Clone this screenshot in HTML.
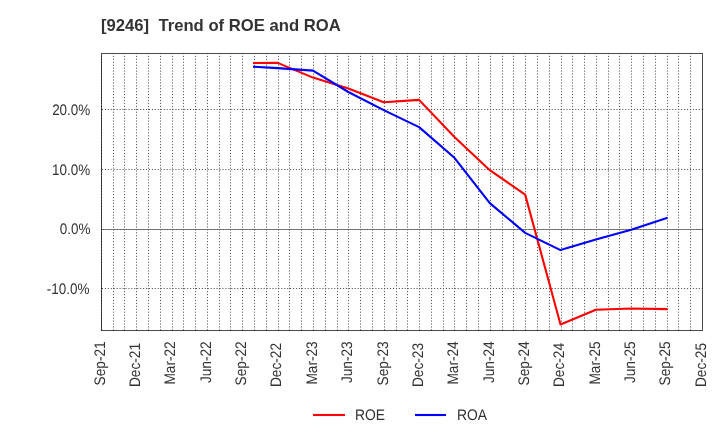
<!DOCTYPE html>
<html><head><meta charset="utf-8"><title>[9246] Trend of ROE and ROA</title>
<style>html,body{margin:0;padding:0;background:#fff;width:720px;height:440px;overflow:hidden}svg{display:block;will-change:transform}</style>
</head><body>
<svg width="720" height="440" viewBox="0 0 720 440" font-family='"Liberation Sans", "DejaVu Sans", sans-serif'>
<rect x="0" y="0" width="720" height="440" fill="#ffffff"/>
<path d="M101.5 229.5H702.5" stroke="#888" stroke-width="1.1" fill="none"/>
<path d="M101.5 330.4V53.5M113.5 330.4V53.5M124.5 330.4V53.5M136.5 330.4V53.5M148.5 330.4V53.5M160.5 330.4V53.5M172.5 330.4V53.5M183.5 330.4V53.5M195.5 330.4V53.5M207.5 330.4V53.5M219.5 330.4V53.5M230.5 330.4V53.5M242.5 330.4V53.5M254.5 330.4V53.5M266.5 330.4V53.5M278.5 330.4V53.5M289.5 330.4V53.5M301.5 330.4V53.5M313.5 330.4V53.5M325.5 330.4V53.5M337.5 330.4V53.5M348.5 330.4V53.5M360.5 330.4V53.5M372.5 330.4V53.5M384.5 330.4V53.5M396.5 330.4V53.5M407.5 330.4V53.5M419.5 330.4V53.5M431.5 330.4V53.5M443.5 330.4V53.5M454.5 330.4V53.5M466.5 330.4V53.5M478.5 330.4V53.5M490.5 330.4V53.5M502.5 330.4V53.5M513.5 330.4V53.5M525.5 330.4V53.5M537.5 330.4V53.5M549.5 330.4V53.5M561.5 330.4V53.5M572.5 330.4V53.5M584.5 330.4V53.5M596.5 330.4V53.5M608.5 330.4V53.5M619.5 330.4V53.5M631.5 330.4V53.5M643.5 330.4V53.5M655.5 330.4V53.5M667.5 330.4V53.5M678.5 330.4V53.5M690.5 330.4V53.5M101.9 109.5H702.5M101.9 169.5H702.5M101.9 288.5H702.5" stroke="#555" stroke-width="1" stroke-dasharray="1.11 1.83" fill="none"/>
<path d="M102.3 229.5H702.5" stroke="#555" stroke-width="1" stroke-dasharray="1.11 1.83" fill="none"/>
<polyline points="254.06,63.00 277.63,62.90 313.00,77.60 348.36,88.50 383.72,102.20 419.08,99.90 454.44,137.00 489.80,170.20 525.16,194.60 560.52,324.50 595.88,309.80 631.25,308.50 666.61,309.10" stroke="#ff0000" stroke-width="2.1" fill="none" stroke-linejoin="round" stroke-linecap="square"/>
<polyline points="254.06,66.70 277.63,68.10 313.00,70.60 348.36,92.00 383.72,110.10 419.08,127.10 454.44,157.80 489.80,203.10 525.16,232.90 560.52,250.10 595.88,239.60 631.25,229.80 666.61,218.00" stroke="#0000ff" stroke-width="2.1" fill="none" stroke-linejoin="round" stroke-linecap="square"/>
<rect x="101.5" y="53.5" width="601.0" height="277.0" stroke="#000" stroke-opacity="0.7" stroke-width="1" fill="none"/>
<text transform="translate(90.3,114.80) scale(0.97,1.1)" text-anchor="end" font-size="13.89" fill="#333" text-rendering="geometricPrecision">20.0%</text>
<text transform="translate(90.2,174.80) scale(0.97,1.1)" text-anchor="end" font-size="13.89" fill="#333" text-rendering="geometricPrecision">10.0%</text>
<text transform="translate(90.4,233.80) scale(0.97,1.1)" text-anchor="end" font-size="13.89" fill="#333" text-rendering="geometricPrecision">0.0%</text>
<text transform="translate(89.5,293.80) scale(0.97,1.1)" text-anchor="end" font-size="13.89" fill="#333" text-rendering="geometricPrecision">-10.0%</text>
<text transform="translate(104.63,341.3) rotate(-90) scale(0.985,1.1)" text-anchor="end" font-size="13.89" fill="#333" text-rendering="geometricPrecision">Sep-21</text>
<text transform="translate(139.99,343.0) rotate(-90) scale(0.985,1.1)" text-anchor="end" font-size="13.89" fill="#333" text-rendering="geometricPrecision">Dec-21</text>
<text transform="translate(175.35,341.3) rotate(-90) scale(0.985,1.1)" text-anchor="end" font-size="13.89" fill="#333" text-rendering="geometricPrecision">Mar-22</text>
<text transform="translate(210.71,341.3) rotate(-90) scale(0.985,1.1)" text-anchor="end" font-size="13.89" fill="#333" text-rendering="geometricPrecision">Jun-22</text>
<text transform="translate(246.07,341.3) rotate(-90) scale(0.985,1.1)" text-anchor="end" font-size="13.89" fill="#333" text-rendering="geometricPrecision">Sep-22</text>
<text transform="translate(281.44,343.0) rotate(-90) scale(0.985,1.1)" text-anchor="end" font-size="13.89" fill="#333" text-rendering="geometricPrecision">Dec-22</text>
<text transform="translate(316.80,341.3) rotate(-90) scale(0.985,1.1)" text-anchor="end" font-size="13.89" fill="#333" text-rendering="geometricPrecision">Mar-23</text>
<text transform="translate(352.16,341.3) rotate(-90) scale(0.985,1.1)" text-anchor="end" font-size="13.89" fill="#333" text-rendering="geometricPrecision">Jun-23</text>
<text transform="translate(387.52,341.3) rotate(-90) scale(0.985,1.1)" text-anchor="end" font-size="13.89" fill="#333" text-rendering="geometricPrecision">Sep-23</text>
<text transform="translate(422.88,343.0) rotate(-90) scale(0.985,1.1)" text-anchor="end" font-size="13.89" fill="#333" text-rendering="geometricPrecision">Dec-23</text>
<text transform="translate(458.24,341.3) rotate(-90) scale(0.985,1.1)" text-anchor="end" font-size="13.89" fill="#333" text-rendering="geometricPrecision">Mar-24</text>
<text transform="translate(493.60,341.3) rotate(-90) scale(0.985,1.1)" text-anchor="end" font-size="13.89" fill="#333" text-rendering="geometricPrecision">Jun-24</text>
<text transform="translate(528.96,341.3) rotate(-90) scale(0.985,1.1)" text-anchor="end" font-size="13.89" fill="#333" text-rendering="geometricPrecision">Sep-24</text>
<text transform="translate(564.32,343.0) rotate(-90) scale(0.985,1.1)" text-anchor="end" font-size="13.89" fill="#333" text-rendering="geometricPrecision">Dec-24</text>
<text transform="translate(599.68,341.3) rotate(-90) scale(0.985,1.1)" text-anchor="end" font-size="13.89" fill="#333" text-rendering="geometricPrecision">Mar-25</text>
<text transform="translate(635.05,341.3) rotate(-90) scale(0.985,1.1)" text-anchor="end" font-size="13.89" fill="#333" text-rendering="geometricPrecision">Jun-25</text>
<text transform="translate(670.41,341.3) rotate(-90) scale(0.985,1.1)" text-anchor="end" font-size="13.89" fill="#333" text-rendering="geometricPrecision">Sep-25</text>
<text transform="translate(705.77,343.0) rotate(-90) scale(0.985,1.1)" text-anchor="end" font-size="13.89" fill="#333" text-rendering="geometricPrecision">Dec-25</text>
<text x="101" y="30.8" font-size="16.67" font-weight="bold" fill="#333">[9246]&#160;&#160;Trend of ROE and ROA</text>
<path d="M313 415H345" stroke="#ff0000" stroke-width="2.1"/>
<text transform="translate(355,419.8) scale(1.0,1.1)" font-size="13.89" fill="#333" text-rendering="geometricPrecision">ROE</text>
<path d="M415 415H446" stroke="#0000ff" stroke-width="2.1"/>
<text transform="translate(457,419.8) scale(1.0,1.1)" font-size="13.89" fill="#333" text-rendering="geometricPrecision">ROA</text>
</svg>
</body></html>
